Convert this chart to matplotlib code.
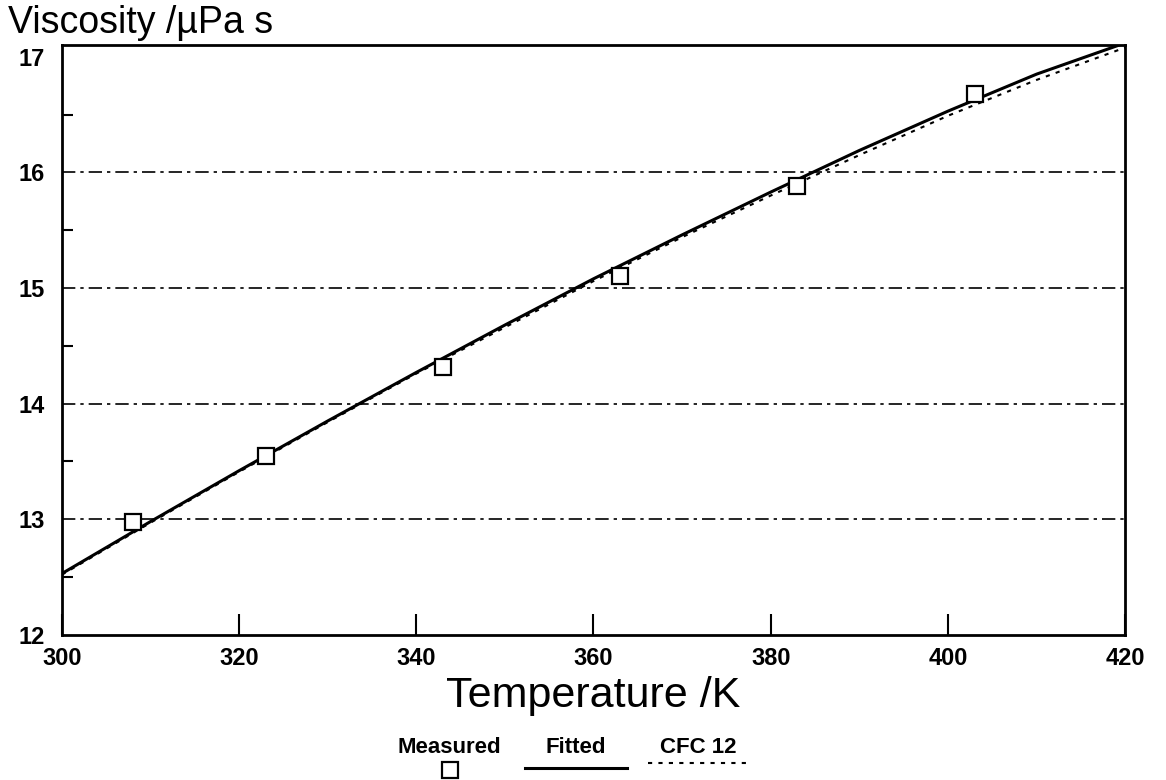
import numpy as np
import matplotlib.pyplot as plt
from matplotlib.lines import Line2D

plt.rcParams['font.family'] = ['Liberation Sans', 'DejaVu Sans']

# measured data
t_meas = [308, 323, 343, 363, 383, 403]
visc_meas = [12.98, 13.55, 14.32, 15.10, 15.88, 16.68]

# fitted curve
t_fit = [300, 310, 320, 330, 340, 350, 360, 370, 380, 390, 400, 410, 420]
visc_fit = [12.53, 12.98, 13.42, 13.85, 14.27, 14.68, 15.08, 15.46, 15.83, 16.19, 16.53, 16.85, 17.12]

# CFC 12 reference
t_cfc = [300, 310, 320, 330, 340, 350, 360, 370, 380, 390, 400, 410, 420]
visc_cfc = [12.52, 12.97, 13.41, 13.84, 14.26, 14.66, 15.06, 15.44, 15.80, 16.15, 16.49, 16.80, 17.08]

fig = plt.figure(figsize=(11.66, 7.8), dpi=100)
ax = fig.add_axes([0.053, 0.186, 0.912, 0.756])

# dash-dot grid lines
for yg in [13, 14, 15, 16]:
    ax.axhline(yg, color='black', lw=1.2, ls=(0, (8, 3, 2, 3)), zorder=1)

ax.plot(t_fit, visc_fit, color='black', lw=2.2, zorder=3)
ax.plot(t_cfc, visc_cfc, color='black', lw=1.5, ls=(0, (2, 3)), zorder=2)
ax.plot(t_meas, visc_meas, ls='none', marker='s', ms=12, mfc='white',
        mec='black', mew=1.6, zorder=4)

ax.set_xlim(300, 420)
ax.set_ylim(12, 17.1)
ax.set_xticks([300, 320, 340, 360, 380, 400, 420])
ax.set_yticks([12, 13, 14, 15, 16, 17])
ax.set_yticks(np.arange(12.5, 17, 1.0), minor=True)
ax.tick_params(axis='x', direction='in', length=15, width=1.5, labelsize=17, pad=9)
ax.tick_params(axis='y', direction='in', length=0, labelsize=17, pad=12)
ax.tick_params(axis='y', which='minor', direction='in', length=8, width=1.5)
for lab in ax.get_xticklabels() + ax.get_yticklabels():
    lab.set_fontweight('bold')
for s in ax.spines.values():
    s.set_linewidth(2)

ax.set_xlabel('Temperature /K', fontsize=31, labelpad=4)
fig.text(0.007, 0.970, 'Viscosity /\u00b5Pa s', fontsize=27, va='center', ha='left')

# legend below the plot (symbol under each label)
labels = ['Measured', 'Fitted', 'CFC 12']
lx = [0.385, 0.494, 0.599]
for lab, x in zip(labels, lx):
    fig.text(x, 0.035, lab, fontsize=16, fontweight='bold', ha='center', va='baseline')
fig.add_artist(Line2D([0.386], [0.013], marker='s', ms=11, mfc='white', mec='black',
                      mew=1.6, transform=fig.transFigure))
fig.add_artist(Line2D([0.450, 0.538], [0.015, 0.015], color='black', lw=2.2,
                      transform=fig.transFigure))
fig.add_artist(Line2D([0.556, 0.642], [0.022, 0.022], color='black', lw=1.5,
                      ls=(0, (2, 3)), transform=fig.transFigure))

fig.savefig('out.png', dpi=100)
